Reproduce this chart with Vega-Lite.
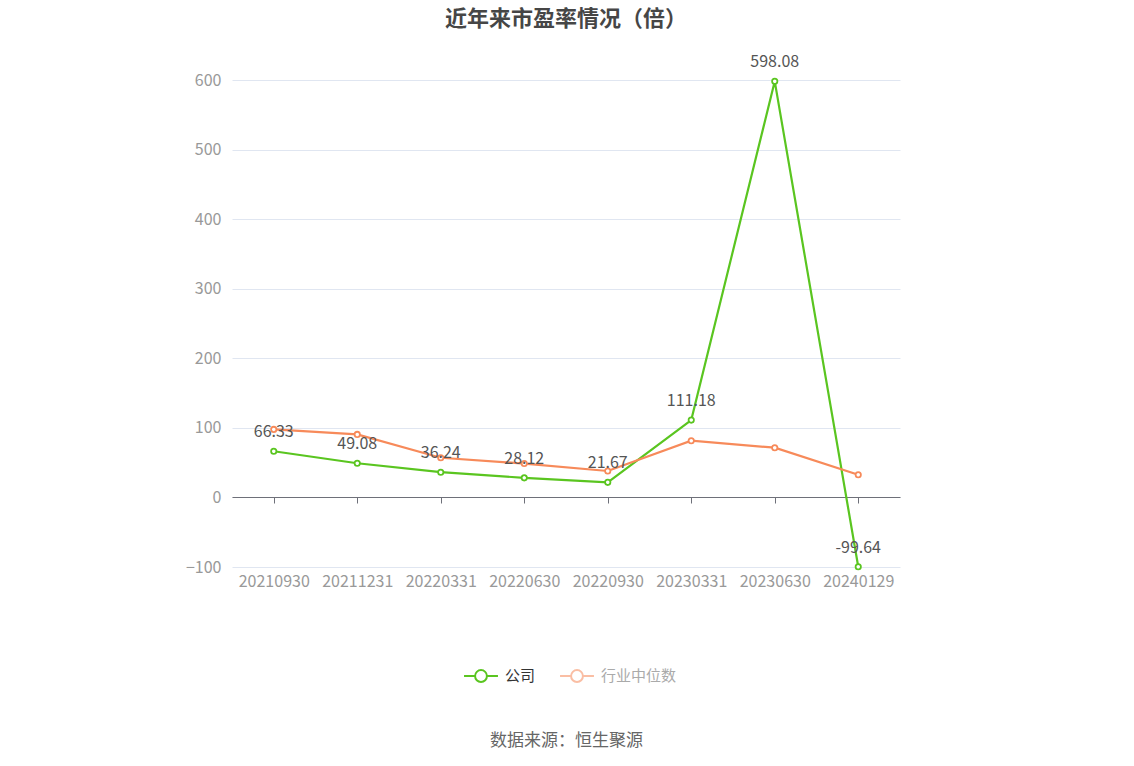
{
  "$schema": "https://vega.github.io/schema/vega-lite/v6.json",
  "autosize": {"type": "none"},
  "width": 668,
  "height": 487,
  "padding": {"left": 232, "top": 80, "right": 234, "bottom": 199},
  "background": "#ffffff",
  "title": {
    "text": "近年来市盈率情况（倍）",
    "fontSize": 22,
    "fontWeight": "bold",
    "color": "#464646",
    "font": "Noto Sans CJK SC",
    "anchor": "middle",
    "offset": 23
  },
  "data": {
    "values": [
      {"date": "20210930", "series": "公司", "value": 66.33},
      {"date": "20211231", "series": "公司", "value": 49.08},
      {"date": "20220331", "series": "公司", "value": 36.24},
      {"date": "20220630", "series": "公司", "value": 28.12},
      {"date": "20220930", "series": "公司", "value": 21.67},
      {"date": "20230331", "series": "公司", "value": 111.18},
      {"date": "20230630", "series": "公司", "value": 598.08},
      {"date": "20240129", "series": "公司", "value": -99.64},
      {"date": "20210930", "series": "行业中位数", "value": 97.8},
      {"date": "20211231", "series": "行业中位数", "value": 90.6},
      {"date": "20220331", "series": "行业中位数", "value": 57},
      {"date": "20220630", "series": "行业中位数", "value": 48.7},
      {"date": "20220930", "series": "行业中位数", "value": 38},
      {"date": "20230331", "series": "行业中位数", "value": 81.5},
      {"date": "20230630", "series": "行业中位数", "value": 71.5},
      {"date": "20240129", "series": "行业中位数", "value": 32.5}
    ]
  },
  "encoding": {
    "x": {
      "field": "date",
      "type": "ordinal",
      "sort": null,
      "scale": {"type": "point", "padding": 0.5}
    },
    "y": {
      "field": "value",
      "type": "quantitative",
      "scale": {"domain": [-100, 600], "nice": false, "zero": false},
      "axis": {
        "values": [-100, 0, 100, 200, 300, 400, 500, 600],
        "title": null,
        "domain": false,
        "ticks": false,
        "grid": true,
        "gridColor": "#e0e6f1",
        "labelColor": "#999999",
        "labelFontSize": 16,
        "labelPadding": 11,
        "labelFont": "Noto Sans CJK SC"
      }
    },
    "color": {
      "field": "series",
      "type": "nominal",
      "scale": {"domain": ["公司", "行业中位数"], "range": ["#5ac520", "#f78a5a"]},
      "legend": {
        "title": null,
        "orient": "none",
        "direction": "horizontal",
        "legendX": 231,
        "legendY": 578,
        "symbolType": "M-1,0L-0.35,0M0.35,0L1,0M0.35,0A0.35,0.35,0,1,1,-0.35,0A0.35,0.35,0,1,1,0.35,0",
        "symbolSize": 1150,
        "symbolStrokeWidth": 2,
        "symbolFillColor": "#ffffff",
        "labelFontSize": 15,
        "labelFont": "Noto Sans CJK SC",
        "labelOffset": 6,
        "columnPadding": 20,
        "encode": {
          "labels": {"update": {"fill": {"signal": "datum.label == '公司' ? '#333333' : '#aaaaaa'"}}},
          "symbols": {"update": {"fill": {"value": "#ffffff"}, "opacity": {"signal": "datum.label == '公司' ? 1 : 0.55"}}}
        }
      }
    }
  },
  "layer": [
    {
      "mark": {"type": "line", "strokeWidth": 2.2},
      "encoding": {
        "x": {
          "field": "date",
          "type": "ordinal",
          "sort": null,
          "axis": {
            "orient": "bottom",
            "title": "数据来源：恒生聚源",
            "titleFontSize": 17,
            "titleFontWeight": "normal",
            "titleColor": "#666666",
            "titleFont": "Noto Sans CJK SC",
            "titlePadding": 143,
            "domain": false,
            "ticks": false,
            "grid": false,
            "labelAngle": 0,
            "labelColor": "#999999",
            "labelFontSize": 16,
            "labelPadding": 6,
            "labelFont": "Noto Sans CJK SC"
          }
        }
      }
    },
    {
      "mark": {"type": "point", "shape": "circle", "filled": false, "fill": "#ffffff", "fillOpacity": 1, "opacity": 1, "size": 28, "strokeWidth": 1.8},
      "encoding": {
        "x": {
          "field": "date",
          "type": "ordinal",
          "sort": null,
          "axis": {
            "orient": "bottom",
            "title": null,
            "labels": false,
            "grid": false,
            "offset": -70,
            "domain": true,
            "domainColor": "#6e7079",
            "domainWidth": 1.2,
            "ticks": true,
            "tickColor": "#6e7079",
            "tickSize": 6
          }
        }
      }
    },
    {
      "transform": [{"filter": "datum.series == '公司'"}],
      "mark": {"type": "text", "dy": -19, "fontSize": 16, "font": "Noto Sans CJK SC"},
      "encoding": {
        "x": {"field": "date", "type": "ordinal", "sort": null, "axis": null},
        "text": {"field": "value", "type": "nominal"},
        "color": {"value": "#555555"}
      }
    }
  ],
  "resolve": {"axis": {"x": "independent"}},
  "config": {"view": {"stroke": null}}
}
